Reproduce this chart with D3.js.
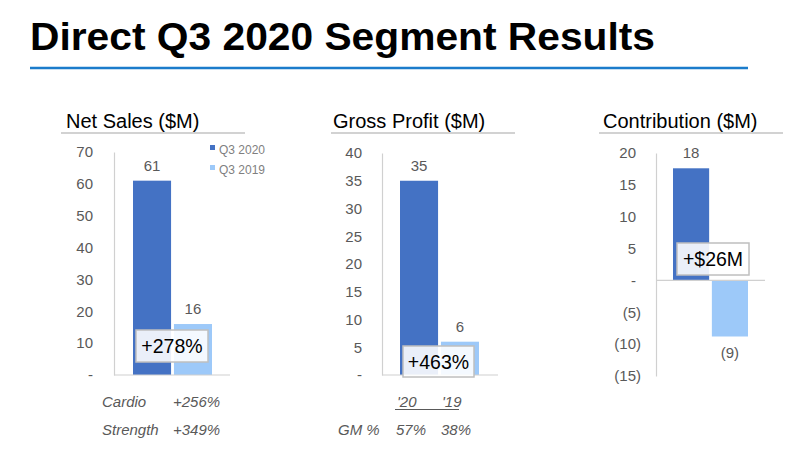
<!DOCTYPE html>
<html><head><meta charset="utf-8">
<script src="https://cdn.jsdelivr.net/npm/d3@7"></script>
<style>
html,body{margin:0;padding:0;background:#fff;}
svg{display:block;font-family:"Liberation Sans",Arial,sans-serif;}
</style></head>
<body>
<svg id="c" width="800" height="452"></svg>
<script>
// ---- data ----
const periods = ["Q3 2020", "Q3 2019"];
const netSales = [61, 16];
const grossProfit = [35, 6];
const contribution = [17.6, -8.8];
const netSalesTicks = [0, 10, 20, 30, 40, 50, 60, 70];
const grossProfitTicks = [0, 5, 10, 15, 20, 25, 30, 35, 40];
const contributionTicks = [-15, -10, -5, 0, 5, 10, 15, 20];
const colors = ["#4472C4", "#9DC9F9"];
const changeLabels = ["+278%", "+463%", "+$26M"];
const cardioRow = ["Cardio", "+256%"];
const strengthRow = ["Strength", "+349%"];
const yearLabels = ["'20", "'19"];
const gmRow = ["GM %", "57%", "38%"];

const svg = d3.select("#c");
const gray = "#595959";
const axisCol = "#d0d0d0";

// Title
const title = svg.append("text").attr("x", 30).attr("y", 50)
  .attr("font-size", 38).attr("font-weight", "bold").attr("fill", "#000")
  .attr("textLength", 625).attr("lengthAdjust", "spacingAndGlyphs")
  .text("Direct Q3 2020 Segment Results");
svg.append("line").attr("x1", 30).attr("x2", 748).attr("y1", 68).attr("y2", 68)
  .attr("stroke", "#1B7CCB").attr("stroke-width", 2.5);

function panel(cfg) {
  const g = svg.append("g");
  // panel title + underline
  g.append("text").attr("x", cfg.titleX).attr("y", 128).attr("font-size", 20)
    .attr("fill", "#000").text(cfg.title);
  g.append("line").attr("x1", cfg.ulX0).attr("x2", cfg.ulX1).attr("y1", 133).attr("y2", 133)
    .attr("stroke", "#a6a6a6").attr("stroke-width", 1.2);

  const y = d3.scaleLinear().domain(cfg.domain).range([cfg.yBottom, cfg.yTop]);
  const x = d3.scaleBand().domain(periods).range(cfg.barRange).paddingInner(0.07).paddingOuter(0);

  // y axis
  const ax = g.append("g").attr("transform", `translate(${cfg.axisX},0)`)
    .call(d3.axisLeft(y).tickValues(cfg.ticks).tickSize(0).tickPadding(0).tickFormat(cfg.fmt));
  ax.select(".domain").attr("stroke", axisCol).attr("stroke-width", 1.2);
  ax.selectAll(".tick text").attr("font-size", 15).attr("fill", gray)
    .attr("font-family", "Liberation Sans, Arial, sans-serif")
    .attr("x", d => cfg.labelX(d) - cfg.axisX).attr("text-anchor", "end");

  // bars
  g.selectAll("rect.bar").data(cfg.values).join("rect").attr("class", "bar")
    .attr("x", (d, i) => x(periods[i]))
    .attr("width", x.bandwidth())
    .attr("y", d => y(Math.max(0, d)))
    .attr("height", d => Math.abs(y(d) - y(0)))
    .attr("fill", (d, i) => colors[i]);

  // baseline (zero) line
  g.append("line").attr("x1", cfg.axisX).attr("x2", cfg.zeroX1)
    .attr("y1", y(0)).attr("y2", y(0)).attr("stroke", axisCol).attr("stroke-width", 1.2);

  // value labels
  g.selectAll("text.val").data(cfg.values).join("text").attr("class", "val")
    .attr("x", (d, i) => x(periods[i]) + x.bandwidth() / 2)
    .attr("y", d => d >= 0 ? y(d) - 10 : y(d) + 22)
    .attr("text-anchor", "middle").attr("font-size", 15).attr("fill", gray)
    .text(d => d >= 0 ? d3.format(".0f")(d) : "(" + d3.format(".0f")(-d) + ")");

  // change box
  const b = cfg.box;
  g.append("rect").attr("x", b.x).attr("y", b.y).attr("width", b.w).attr("height", b.h)
    .attr("fill", "rgba(255,255,255,0.89)").attr("stroke", "#bfbfbf").attr("stroke-width", 1.5);
  g.append("text").attr("x", b.x + b.w / 2).attr("y", b.y + b.h / 2 + 7)
    .attr("text-anchor", "middle").attr("font-size", 19.5).attr("fill", "#000").text(b.text);
  return {g, x, y};
}

const fmtPlain = d => d === 0 ? "-" : String(d);
const fmtAcct = d => d === 0 ? "-" : d < 0 ? "(" + (-d) + ")" : String(d);

const p1 = panel({
  title: "Net Sales ($M)", titleX: 66, ulX0: 61, ulX1: 245,
  domain: [0, 70], yTop: 152, yBottom: 375, ticks: netSalesTicks, fmt: fmtPlain,
  axisX: 114, labelX: d => 93, barRange: [133, 212], zeroX1: 230, values: netSales,
  box: {x: 136, y: 330, w: 72, h: 32, text: changeLabels[0]}
});
// legend
periods.forEach((p, i) => {
  p1.g.append("rect").attr("x", 210).attr("y", 145 + i * 20).attr("width", 5).attr("height", 5).attr("fill", colors[i]);
  p1.g.append("text").attr("x", 219).attr("y", 153.5 + i * 20).attr("font-size", 12).attr("fill", "#7f7f7f").text(p);
});
// sub rows
[cardioRow, strengthRow].forEach((row, i) => {
  const yy = 407 + i * 28;
  p1.g.append("text").attr("x", 102).attr("y", yy).attr("font-size", 15).attr("font-style", "italic").attr("fill", gray).text(row[0]);
  p1.g.append("text").attr("x", 173).attr("y", yy).attr("font-size", 15).attr("font-style", "italic").attr("fill", gray).text(row[1]);
});

const p2 = panel({
  title: "Gross Profit ($M)", titleX: 333, ulX0: 331, ulX1: 515,
  domain: [0, 40], yTop: 153, yBottom: 375, ticks: grossProfitTicks, fmt: fmtPlain,
  axisX: 382, labelX: d => 362, barRange: [400, 479], zeroX1: 498, values: grossProfit,
  box: {x: 403, y: 346, w: 71, h: 31, text: changeLabels[1]}
});
yearLabels.forEach((t, i) => {
  p2.g.append("text").attr("x", [397, 442][i]).attr("y", 407).attr("font-size", 15).attr("font-style", "italic").attr("fill", gray).text(t);
});
p2.g.append("line").attr("x1", 395).attr("x2", 459).attr("y1", 409.5).attr("y2", 409.5).attr("stroke", gray).attr("stroke-width", 1);
gmRow.forEach((t, i) => {
  p2.g.append("text").attr("x", [338, 396, 441][i]).attr("y", 435).attr("font-size", 15).attr("font-style", "italic").attr("fill", gray).text(t);
});

const p3 = panel({
  title: "Contribution ($M)", titleX: 603, ulX0: 599, ulX1: 783,
  domain: [-15, 20], yTop: 153, yBottom: 376, ticks: contributionTicks, fmt: fmtAcct,
  axisX: 656, labelX: d => d < 0 ? 641 : 636, barRange: [673, 748], zeroX1: 765, values: contribution,
  box: {x: 677, y: 243, w: 72, h: 32, text: changeLabels[2]}
});
</script>
</body></html>
